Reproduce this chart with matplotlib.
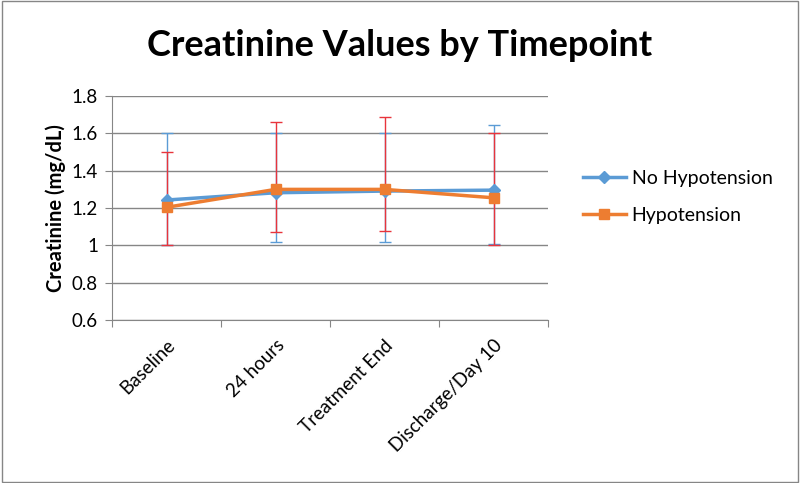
import matplotlib.pyplot as plt
import numpy as np
from matplotlib.patches import Rectangle

plt.rcParams['font.family'] = ['Lato', 'DejaVu Sans']

timepoints = ['Baseline', '24 hours', 'Treatment End', 'Discharge/Day 10']
no_hypo = [1.243, 1.282, 1.291, 1.296]
no_hypo_hi = [1.60, 1.60, 1.60, 1.645]
no_hypo_lo = [1.00, 1.018, 1.018, 1.007]
hypo = [1.204, 1.30, 1.30, 1.255]
hypo_hi = [1.502, 1.661, 1.689, 1.60]
hypo_lo = [1.00, 1.07, 1.077, 1.00]

blue = '#5B9BD5'
orange = '#ED7D31'
red = '#E8343C'

fig = plt.figure(figsize=(8, 4.83), dpi=100)
ax = fig.add_axes([0.14, 0.3375, 0.545, 0.4635])
x = np.arange(len(timepoints))

# error bars first so lines sit on top
ax.errorbar(x, no_hypo, yerr=[np.subtract(no_hypo, no_hypo_lo), np.subtract(no_hypo_hi, no_hypo)],
            fmt='none', ecolor=blue, elinewidth=1, capsize=4, capthick=1, zorder=2)
ax.errorbar(x, hypo, yerr=[np.subtract(hypo, hypo_lo), np.subtract(hypo_hi, hypo)],
            fmt='none', ecolor=red, elinewidth=1, capsize=4, capthick=1, zorder=2)
ax.plot(x, no_hypo, color=blue, lw=2.5, marker='D', ms=6, label='No Hypotension', zorder=3)
ax.plot(x, hypo, color=orange, lw=2.5, marker='s', ms=7, label='Hypotension', zorder=4)

ax.set_xlim(-0.5, 3.5)
ax.set_ylim(0.6, 1.8)
ax.set_yticks(np.arange(0.6, 1.81, 0.2))
ax.set_yticklabels(['0.6', '0.8', '1', '1.2', '1.4', '1.6', '1.8'], fontsize=13.5)
ax.set_xticks(np.arange(-0.5, 3.6, 1))
ax.set_xticklabels([])
ax.tick_params(axis='x', length=5, color='#868686')
ax.tick_params(axis='y', length=5, color='#868686', pad=5)
ax.set_xticks(x, minor=True)
ax.set_xticklabels(timepoints, minor=True, rotation=45, ha='right', rotation_mode='anchor', fontsize=13.5)
ax.tick_params(axis='x', which='minor', length=0, pad=12)
ax.grid(axis='y', color='#868686', lw=1)
ax.set_axisbelow(True)
for s in ['top', 'right']:
    ax.spines[s].set_visible(False)
for s in ['left', 'bottom']:
    ax.spines[s].set_color('#868686')

ax.set_ylabel('Creatinine (mg/dL)', fontsize=14.5, fontweight='bold', labelpad=4)
fig.text(0.5, 0.905, 'Creatinine Values by Timepoint', ha='center', va='center',
         fontsize=26, fontweight='bold')

ax.legend(loc='center left', bbox_to_anchor=(1.04, 0.55), frameon=False, fontsize=14,
          handlelength=2.2, handletextpad=0.3, labelspacing=1.0)

fig.patches.append(Rectangle((0.002, 0.003), 0.995, 0.994, transform=fig.transFigure,
                             fill=False, edgecolor='#868686', lw=1))

fig.savefig('out.png', dpi=100)
